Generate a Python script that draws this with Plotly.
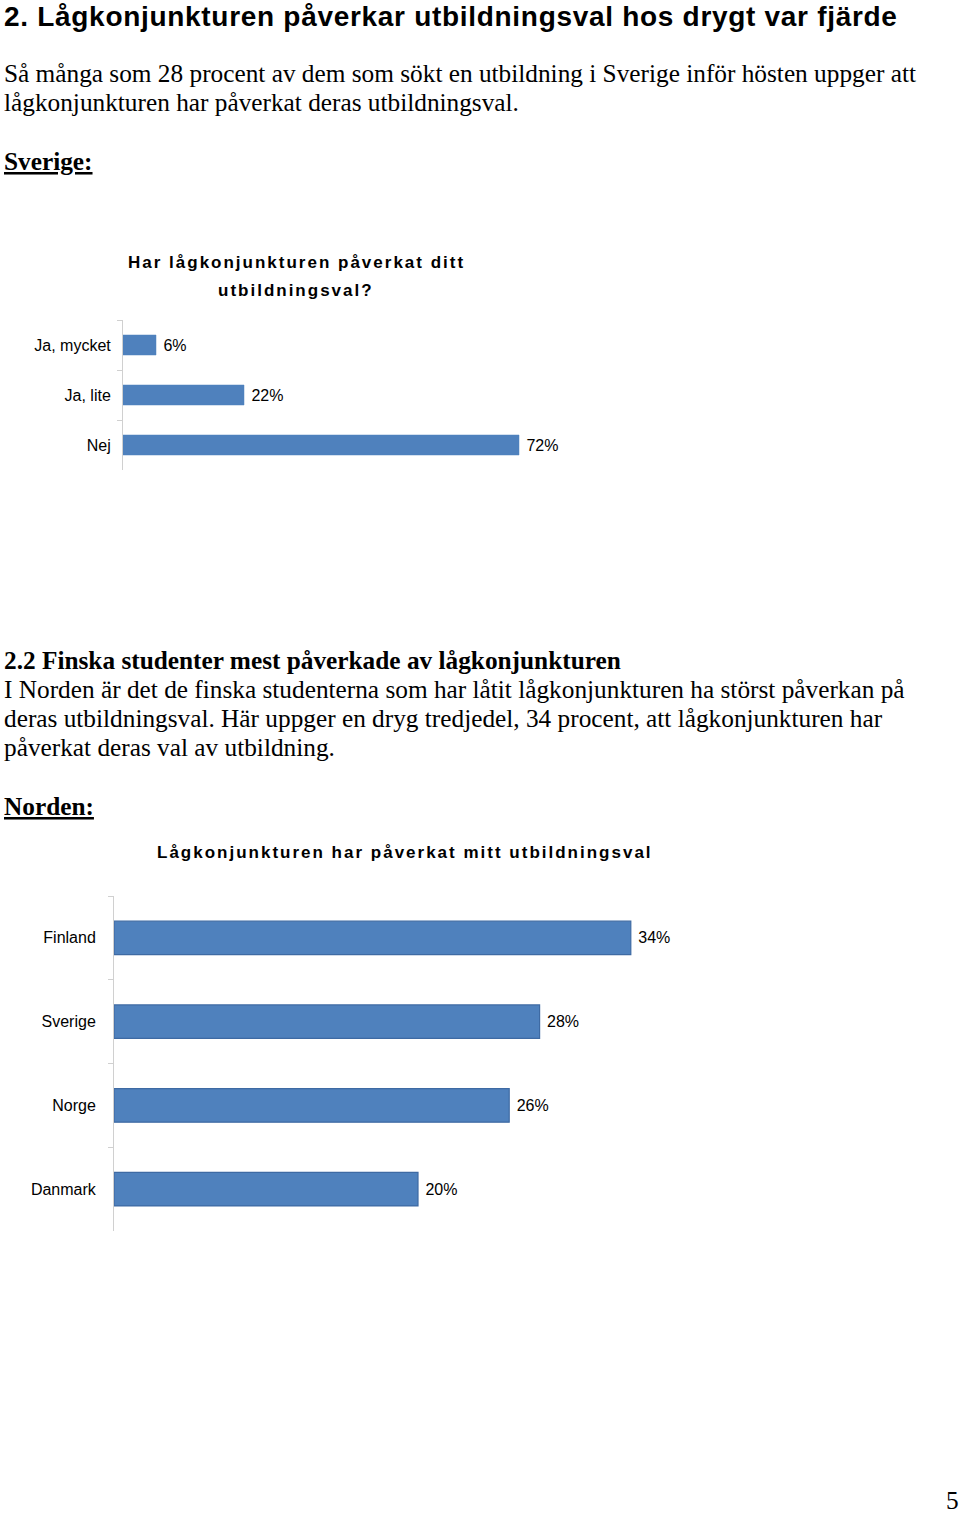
import plotly.graph_objects as go

W, H = 960, 1515

# ---- data ----
sv_categories = ["Ja, mycket", "Ja, lite", "Nej"]
sv_values = [6, 22, 72]
sv_title_lines = ["Har lågkonjunkturen påverkat ditt", "utbildningsval?"]

nord_categories = ["Finland", "Sverige", "Norge", "Danmark"]
nord_values = [34, 28, 26, 20]
nord_title = "Lågkonjunkturen har påverkat mitt utbildningsval"

heading = "2. Lågkonjunkturen påverkar utbildningsval hos drygt var fjärde"
para1 = ["Så många som 28 procent av dem som sökt en utbildning i Sverige inför hösten uppger att",
         "lågkonjunkturen har påverkat deras utbildningsval."]
label1 = "Sverige:"
heading2 = "2.2 Finska studenter mest påverkade av lågkonjunkturen"
para2 = ["I Norden är det de finska studenterna som har låtit lågkonjunkturen ha störst påverkan på",
         "deras utbildningsval. Här uppger en dryg tredjedel, 34 procent, att lågkonjunkturen har",
         "påverkat deras val av utbildning."]
label2 = "Norden:"
page_no = "5"

BAR = "#4F81BD"
EDGE = "#3E6AA3"
AXIS = "#D0D0D0"
SANS = "Liberation Sans, Arial, sans-serif"
SERIF = "Liberation Serif, Times New Roman, serif"
NBSP = "\u00a0"


def px_x(x):
    return x / W


def px_y(y):
    return 1 - y / H


fig = go.Figure()

fig.add_trace(go.Bar(
    x=sv_values, y=sv_categories, orientation="h",
    xaxis="x", yaxis="y",
    marker=dict(color=BAR, line=dict(color=BAR, width=0.5)),
    width=0.4,
    text=[f"{NBSP}{v}%" for v in sv_values], textposition="outside",
    textfont=dict(family=SANS, size=16, color="#000000"),
    cliponaxis=False, showlegend=False, hoverinfo="skip",
))

fig.add_trace(go.Bar(
    x=nord_values, y=nord_categories, orientation="h",
    xaxis="x2", yaxis="y2",
    marker=dict(color=BAR, line=dict(color=EDGE, width=1.2)),
    width=0.4,
    text=[f"{NBSP}{v}%" for v in nord_values], textposition="outside",
    textfont=dict(family=SANS, size=16, color="#000000"),
    cliponaxis=False, showlegend=False, hoverinfo="skip",
))

yaxis_common = dict(
    type="category", showline=True, linecolor=AXIS, linewidth=1,
    ticks="outside", tickson="boundaries", ticklen=5, tickcolor=AXIS,
    showgrid=False, zeroline=False,
    tickfont=dict(family=SANS, size=16, color="#000000"),
)

fig.update_layout(
    width=W, height=H,
    margin=dict(l=0, r=0, t=0, b=0),
    paper_bgcolor="white", plot_bgcolor="white",
    xaxis=dict(domain=[px_x(123), px_x(618)], range=[0, 90], visible=False,
               anchor="y"),
    yaxis=dict(domain=[px_y(470), px_y(320)], range=[2.5, -0.5],
               categoryorder="array", categoryarray=sv_categories,
               anchor="x", ticklabelstandoff=8, **yaxis_common),
    xaxis2=dict(domain=[px_x(114), px_x(722)], range=[0, 40], visible=False,
                anchor="y2"),
    yaxis2=dict(domain=[px_y(1231), px_y(896)], range=[3.5, -0.5],
                categoryorder="array", categoryarray=nord_categories,
                anchor="x2", ticklabelstandoff=14, **yaxis_common),
)

ann = []


def text(x, y, s, family, size, bold=False, underline=False, xanchor="left",
         yanchor="middle", spacing=None):
    if spacing:
        s = f'<span style="letter-spacing:{spacing}px">{s}</span>'
    if bold:
        s = f"<b>{s}</b>"
    if underline:
        s = f"<u>{s}</u>"
    ann.append(dict(x=px_x(x), y=px_y(y), xref="paper", yref="paper", text=s,
                    showarrow=False, xanchor=xanchor, yanchor=yanchor,
                    borderpad=0,
                    font=dict(family=family, size=size, color="#000000")))


text(3, 0, heading, SANS, 28, bold=True, yanchor="top", spacing=0.7)
for i, line in enumerate(para1):
    text(3, 73 + 29 * i, line, SERIF, 25.3)
text(3, 161, label1, SERIF, 25.3, bold=True, underline=True)

for i, line in enumerate(sv_title_lines):
    text(296, 262 + 28 * i, line, SANS, 17, bold=True, xanchor="center", spacing=2)

text(3, 660, heading2, SERIF, 25.3, bold=True)
for i, line in enumerate(para2):
    text(3, 689 + 29 * i, line, SERIF, 25.3)
text(3, 806, label2, SERIF, 25.3, bold=True, underline=True)

text(405, 852, nord_title, SANS, 17, bold=True, xanchor="center", spacing=2)

text(960, 1515, page_no, SERIF, 25.3, xanchor="right", yanchor="bottom")

fig.update_layout(annotations=ann)

fig.write_html("out.html")
